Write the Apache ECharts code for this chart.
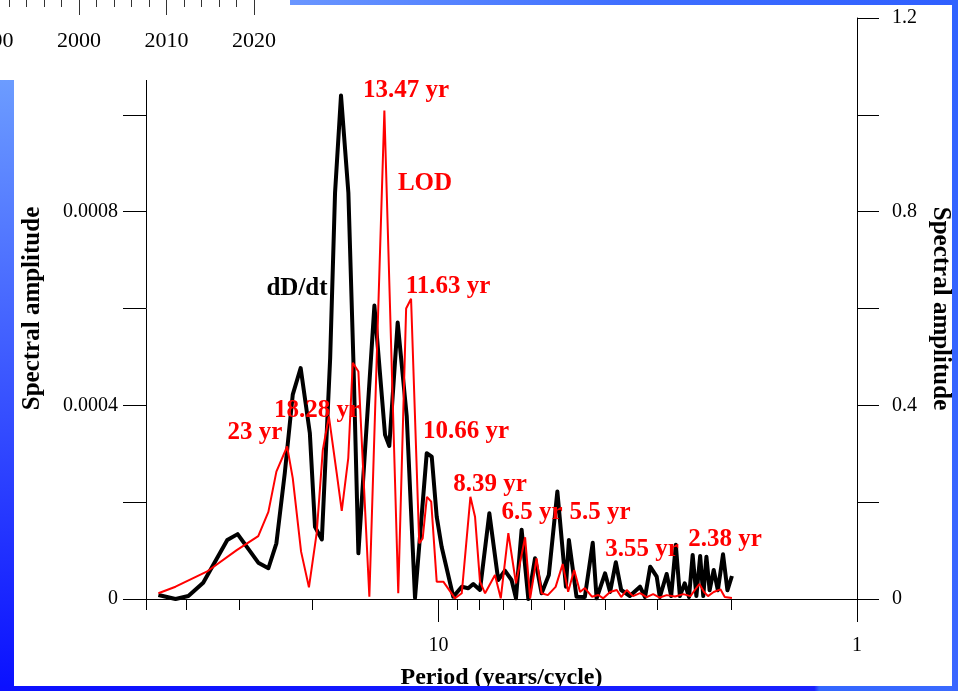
<!DOCTYPE html>
<html>
<head>
<meta charset="utf-8">
<script src="https://cdn.jsdelivr.net/npm/echarts@6/dist/echarts.min.js"></script>
<style>
  html, body { margin: 0; padding: 0; background: #ffffff; }
  #chart { width: 958px; height: 691px; }
</style>
</head>
<body>
<div id="chart"></div>
<script>
// dD/dt amplitude spectrum (left axis): period in years, amplitude
const dDdtPeriods = [46.7, 42.5, 39.6, 36.5, 31.97, 30.2, 26.96, 25.5, 24.4, 23.3, 22.3, 21.35, 20.3, 19.73, 19.0,
  18.15, 17.67, 17.1, 16.42, 15.98, 15.54, 14.23, 13.42, 13.11, 12.52, 11.91, 11.38, 10.67, 10.38, 10.10, 9.83,
  9.22, 8.80, 8.49, 8.26, 7.96, 7.56, 7.20, 6.94, 6.69, 6.53, 6.33, 6.10, 5.88, 5.67, 5.45, 5.20, 4.96, 4.88,
  4.68, 4.47, 4.28, 4.19, 4.00, 3.89, 3.77, 3.66, 3.49, 3.30, 3.21, 3.12, 3.01, 2.96, 2.85, 2.78, 2.71, 2.65,
  2.58, 2.52, 2.47, 2.42, 2.37, 2.33, 2.29, 2.25, 2.20, 2.15, 2.09, 2.04, 1.99];
const dDdtAmps = [0.0000083, 0.0, 0.0000062, 0.0000337, 0.000122, 0.000134, 0.000075, 0.0000635, 0.000115, 0.00026,
  0.000422, 0.000477, 0.000343, 0.000149, 0.000123, 0.000498, 0.000839, 0.00104, 0.000839, 0.000498, 0.0000945,
  0.000606, 0.000339, 0.000316, 0.000571, 0.000377, 0.000002, 0.000301, 0.000294, 0.00017, 0.000108, 0.0000048,
  0.0000254, 0.0000221, 0.000031, 0.0000186, 0.000177, 0.0000393, 0.0000585, 0.0000393, 0.0000014, 0.000143, 0.0,
  0.0000841, 0.0000118, 0.0000496, 0.000222, 0.0000254, 0.000122, 0.0000048, 0.000004, 0.000116, 0.0000014,
  0.0000531, 0.0000145, 0.0000759, 0.0000186, 0.0000062, 0.0000254, 0.000004, 0.0000668, 0.0000461, 0.000004,
  0.0000517, 0.0000062, 0.000112, 0.0000062, 0.0000325, 0.000004, 0.000091, 0.0000062, 0.0000889, 0.000006,
  0.0000874, 0.000018, 0.00006, 0.000018, 0.0000924, 0.000018, 0.0000475];

// LOD amplitude spectrum (right axis): period in years, amplitude
const lodPeriods = [46.7, 42.5, 35.8, 30.35, 26.96, 25.5, 24.4, 23.0, 22.3, 21.3, 20.4, 19.55, 18.9, 18.28, 17.51,
  17.03, 16.43, 16.03, 15.54, 15.07, 14.63, 13.47, 12.48, 11.95, 11.63, 11.12, 10.91, 10.66, 10.41, 10.10, 9.74,
  9.13, 8.80, 8.39, 8.18, 7.96, 7.74, 7.33, 7.10, 6.81, 6.53, 6.21, 6.04, 5.83, 5.67, 5.48, 5.25, 5.05, 4.90,
  4.74, 4.59, 4.47, 4.30, 4.15, 4.04, 3.89, 3.75, 3.66, 3.55, 3.43, 3.30, 3.18, 3.07, 2.96, 2.85, 2.72, 2.60,
  2.50, 2.44, 2.38, 2.32, 2.27, 2.20, 2.12, 2.07, 1.99];
const lodAmps = [0.0118, 0.0254, 0.0564, 0.101, 0.130, 0.180, 0.263, 0.315, 0.2495, 0.0978, 0.0242, 0.136, 0.308,
  0.377, 0.260, 0.182, 0.291, 0.488, 0.470, 0.232, 0.0048, 1.009, 0.0118, 0.600, 0.620, 0.115, 0.125, 0.211, 0.201,
  0.0358, 0.0358, 0.0014, 0.0118, 0.211, 0.170, 0.0358, 0.0118, 0.0496, 0.0014, 0.136, 0.0325, 0.1275, 0.0014,
  0.0841, 0.0118, 0.008, 0.025, 0.0723, 0.0151, 0.060, 0.0145, 0.0227, 0.0048, 0.0083, 0.0014, 0.0145, 0.0186,
  0.004, 0.0186, 0.006, 0.012, 0.004, 0.010, 0.003, 0.008, 0.005, 0.010, 0.006, 0.0186, 0.031, 0.0145, 0.006,
  0.0145, 0.020, 0.004, 0.002];

// Peak annotations
const peakLabels = ['13.47 yr', '11.63 yr', '23 yr', '18.28 yr', '10.66 yr', '8.39 yr', '6.5 yr', '5.5 yr', '3.55 yr', '2.38 yr'];
const seriesLabels = ['dD/dt', 'LOD'];

// Axis tick values
const periodMajorTicks = [1, 10];
const periodMinorTicks = [2, 3, 4, 5, 6, 7, 8, 9, 20, 30, 40, 50];
const yearTicks = [1980, 2020];

const SERIF = '"Liberation Serif", "Times New Roman", serif';

const pairs = (xs, ys) => xs.map((x, i) => [x, ys[i]]);

// Where each annotation sits on the page
const peakLabelPos = [[406, 91], [448, 287], [255, 433], [317, 411], [466, 432], [490, 485], [532, 513], [600, 513], [642, 550], [725, 540]];
const seriesLabelPos = [[297, 289], [425, 184]];

const chart = echarts.init(document.getElementById('chart'));

const graphics = [];
// Page frame: white panels with blue gradient borders
graphics.push({ type: 'rect', z: 100, shape: { x: 0, y: 80, width: 14, height: 611 },
  style: { fill: new echarts.graphic.LinearGradient(0, 0, 0, 1, [
    { offset: 0, color: '#6c9cff' }, { offset: 0.5, color: '#3a55ff' }, { offset: 1, color: '#0a10ff' }]) } });
graphics.push({ type: 'rect', z: 100, shape: { x: 0, y: 686, width: 958, height: 5 },
  style: { fill: new echarts.graphic.LinearGradient(0, 0, 1, 0, [
    { offset: 0, color: '#0c10ff' }, { offset: 0.85, color: '#1a22ff' }, { offset: 0.855, color: '#3366ff' }, { offset: 1, color: '#3a6aff' }]) } });
graphics.push({ type: 'rect', z: 100, shape: { x: 290, y: 0, width: 668, height: 5 },
  style: { fill: new echarts.graphic.LinearGradient(0, 0, 1, 0, [
    { offset: 0, color: '#6a96ff' }, { offset: 0.5, color: '#3f6fff' }, { offset: 1, color: '#2f5fff' }]) } });
graphics.push({ type: 'rect', z: 100, shape: { x: 952, y: 0, width: 6, height: 691 },
  style: { fill: new echarts.graphic.LinearGradient(0, 0, 0, 1, [
    { offset: 0, color: '#2f62ff' }, { offset: 1, color: '#3a66ff' }]) } });
// Inset panel holding the time axis at the top left
graphics.push({ type: 'rect', z: 50, shape: { x: 0, y: 0, width: 290, height: 80 }, style: { fill: '#ffffff' } });

peakLabels.forEach((t, i) => {
  graphics.push({ type: 'text', z: 60, x: peakLabelPos[i][0], y: peakLabelPos[i][1],
    style: { text: t, fill: '#ff0000', font: 'bold 25px ' + SERIF, textAlign: 'center', textVerticalAlign: 'middle' } });
});
seriesLabels.forEach((t, i) => {
  graphics.push({ type: 'text', z: 60, x: seriesLabelPos[i][0], y: seriesLabelPos[i][1],
    style: { text: t, fill: i === 0 ? '#000000' : '#ff0000', font: 'bold 25px ' + SERIF, textAlign: 'center', textVerticalAlign: 'middle' } });
});

const axisLineStyle = { color: '#000000', width: 1 };
const tickLabelStyle = { color: '#000000', fontFamily: SERIF, fontSize: 20 };

chart.setOption({
  animation: false,
  backgroundColor: '#ffffff',
  grid: [
    { left: 146, right: 101, top: 18, bottom: 92, containLabel: false, outerBoundsMode: 'none' },
    { left: -96, top: -20, width: 350, height: 19, containLabel: false, outerBoundsMode: 'none' }
  ],
  xAxis: [
    {
      type: 'log', gridIndex: 0, logBase: 10, min: 1, max: 50, inverse: true, position: 'bottom',
      axisLine: { onZero: false, lineStyle: axisLineStyle },
      axisTick: { customValues: periodMajorTicks, length: 23, lineStyle: axisLineStyle },
      axisLabel: { customValues: periodMajorTicks, margin: 37, ...tickLabelStyle },
      splitLine: { show: false },
      name: 'Period (years/cycle)', nameLocation: 'middle', nameGap: 67,
      nameTextStyle: { color: '#000000', fontFamily: SERIF, fontSize: 24, fontWeight: 'bold' }
    },
    {
      type: 'log', gridIndex: 0, logBase: 10, min: 1, max: 50, inverse: true, position: 'bottom',
      axisLine: { show: false, onZero: false },
      axisTick: { customValues: periodMinorTicks, length: 11, lineStyle: axisLineStyle },
      axisLabel: { show: false },
      splitLine: { show: false }
    },
    {
      type: 'value', gridIndex: 1, min: yearTicks[0], max: yearTicks[1], interval: 10, position: 'bottom', z: 60,
      axisLine: { show: false, onZero: false },
      axisTick: { length: 16, lineStyle: { color: '#333333', width: 1 } },
      minorTick: { show: true, splitNumber: 5, length: 8, lineStyle: { color: '#333333', width: 1 } },
      axisLabel: { margin: 31, color: '#000000', fontFamily: SERIF, fontSize: 22, formatter: v => String(v) },
      splitLine: { show: false }
    }
  ],
  yAxis: [
    {
      type: 'value', gridIndex: 0, min: 0, max: 0.0012, interval: 0.0002, position: 'left',
      axisLine: { show: true, lineStyle: axisLineStyle },
      axisTick: { show: true, length: 23, lineStyle: axisLineStyle },
      axisLabel: {
        margin: 28, ...tickLabelStyle,
        formatter: v => { const k = Math.round(v * 1e4); return k % 4 === 0 ? String(k / 1e4) : ''; }
      },
      splitLine: { show: false },
      name: 'Spectral amplitude', nameLocation: 'middle', nameGap: 101, nameRotate: 90,
      nameTextStyle: { color: '#000000', fontFamily: SERIF, fontSize: 25, fontWeight: 'bold' }
    },
    {
      type: 'value', gridIndex: 0, min: 0, max: 1.2, interval: 0.2, position: 'right',
      axisLine: { show: true, lineStyle: axisLineStyle },
      axisTick: { show: true, length: 22, lineStyle: axisLineStyle },
      axisLabel: {
        margin: 35, ...tickLabelStyle,
        formatter: v => { const k = Math.round(v * 10); return k % 4 === 0 ? String(k / 10) : ''; }
      },
      splitLine: { show: false },
      name: 'Spectral amplitude', nameLocation: 'middle', nameGap: 68, nameRotate: -90,
      nameTextStyle: { color: '#000000', fontFamily: SERIF, fontSize: 25, fontWeight: 'bold' }
    },
    { type: 'value', gridIndex: 1, show: false }
  ],
  series: [
    {
      name: 'dD/dt', type: 'line', xAxisIndex: 0, yAxisIndex: 0, z: 3,
      data: pairs(dDdtPeriods, dDdtAmps), symbol: 'none',
      lineStyle: { color: '#000000', width: 4, join: 'round' }
    },
    {
      name: 'LOD', type: 'line', xAxisIndex: 0, yAxisIndex: 1, z: 4,
      data: pairs(lodPeriods, lodAmps), symbol: 'none',
      lineStyle: { color: '#ff0000', width: 2 }
    }
  ],
  graphic: graphics
});
</script>
</body>
</html>
